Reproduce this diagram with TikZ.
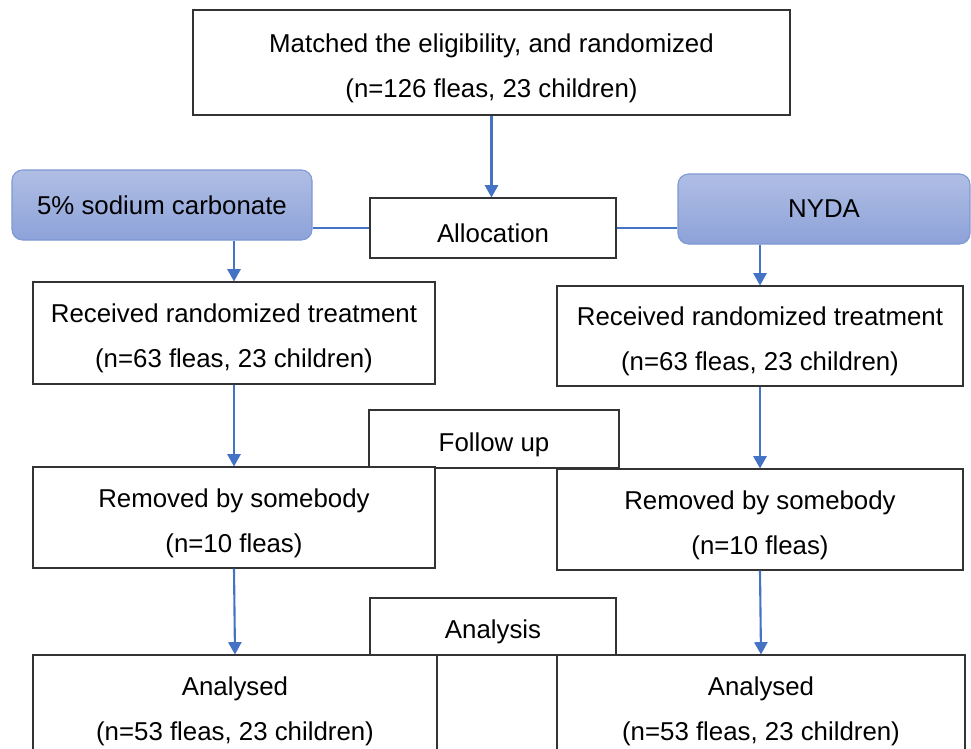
\documentclass[tikz,border=0pt]{standalone}
\usepackage{fontspec}
\setmainfont{Liberation Sans}
\usetikzlibrary{arrows.meta}

\definecolor{armblue}{HTML}{4472C4}
\definecolor{armtop}{HTML}{B0BEE4}
\definecolor{armbot}{HTML}{8DA2D9}
\definecolor{armedge}{HTML}{7E98D4}

% strut that pushes the text a little below the middle of a box
\newcommand{\lowered}{\rule{0pt}{17pt}}

\begin{document}
\begin{tikzpicture}[x=0.02cm,y=-0.02cm,
  box/.style={draw=black!80, line width=0.6pt, fill=white, inner sep=0pt,
    align=center, font=\fontsize{14.7}{25.5}\selectfont},
  arm/.style={draw=armedge, line width=0.6pt, rounded corners=6pt,
    top color=armtop, bottom color=armbot, inner sep=0pt,
    font=\fontsize{14.7}{16}\selectfont},
  flow/.style={draw=armblue, line width=1.2pt, -{Triangle[width=7.5pt,length=7pt]}},
  link/.style={draw=armblue, line width=0.8pt}]

\def\px{0.02cm}

\useasboundingbox (0,0) rectangle (971,748);
\clip (0,0) rectangle (971,748);

% enrolment
\node[box, minimum width=597*\px, minimum height=105*\px] (match) at (491.5,62.5)
  {\lowered Matched the eligibility, and randomized\\(n=126 fleas, 23 children)};
\node[box, minimum width=246*\px, minimum height=60*\px] (alloc) at (493,228) {\lowered Allocation};

% the two arms
\node[arm, minimum width=300*\px, minimum height=70*\px] (soda) at (162,205) {5\% sodium carbonate};
\node[arm, minimum width=292*\px, minimum height=70*\px] (nyda) at (824,209) {NYDA};

\node[box, minimum width=402*\px, minimum height=102*\px] (recL) at (234,333)
  {\lowered Received randomized treatment\\(n=63 fleas, 23 children)};
\node[box, minimum width=406*\px, minimum height=100*\px] (recR) at (760,336)
  {\lowered Received randomized treatment\\(n=63 fleas, 23 children)};

% follow up
\node[box, minimum width=250*\px, minimum height=58*\px] (follow) at (494,439) {\lowered Follow up};
\node[box, minimum width=402*\px, minimum height=101*\px] (remL) at (234,517.5)
  {\lowered Removed by somebody\\(n=10 fleas)};
\node[box, minimum width=406*\px, minimum height=101*\px] (remR) at (760,519.5)
  {\lowered Removed by somebody\\(n=10 fleas)};

% analysis
\node[box, minimum width=246*\px, minimum height=57*\px] (analysis) at (493,626.5) {\lowered Analysis};
\node[box, minimum width=404*\px, minimum height=102*\px] (anaL) at (235,706)
  {\lowered Analysed\\(n=53 fleas, 23 children)};
\node[box, minimum width=408*\px, minimum height=102*\px] (anaR) at (761,706)
  {\lowered Analysed\\(n=53 fleas, 23 children)};

% connectors
\draw[flow] (match.south) -- (match.south |- alloc.north);
\draw[link] (alloc.west) -- (soda.east |- alloc.west);
\draw[link] (alloc.east) -- (nyda.west |- alloc.east);

\draw[flow] (soda.south -| recL) -- (recL.north);
\draw[flow] (recL.south) -- (remL.north);
\draw[flow] (remL.south) -- (anaL.north);

\draw[flow] (nyda.south -| recR) -- (recR.north);
\draw[flow] (recR.south) -- (remR.north);
\draw[flow] (remR.south) -- (anaR.north);
\end{tikzpicture}
\end{document}
